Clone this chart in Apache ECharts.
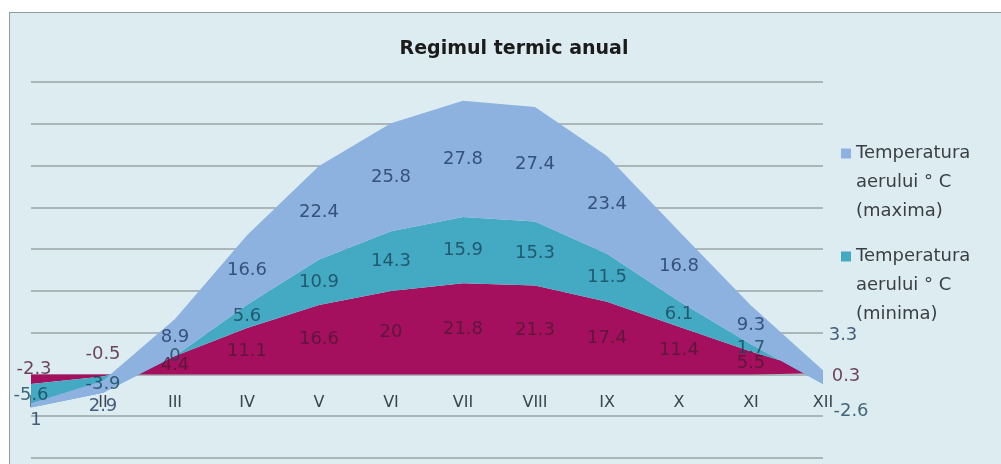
<!DOCTYPE html>
<html><head><meta charset="utf-8">
<script src="https://cdn.jsdelivr.net/npm/echarts@6/dist/echarts.min.js"></script>
<style>
html,body{margin:0;padding:0;background:#fff;width:1001px;height:464px;overflow:hidden}
#frame{position:absolute;left:9px;top:12px;width:1100px;height:600px;background:#ddecf1;border:1.5px solid #8e9a9b;box-sizing:border-box}
#chart{position:absolute;left:0;top:0;width:1001px;height:464px}
</style></head><body>
<div id="frame"></div><div id="chart"></div>
<script>
// ---- data ----
const months = ['I','II','III','IV','V','VI','VII','VIII','IX','X','XI','XII'];
const tempMax = [1, 2.9, 8.9, 16.6, 22.4, 25.8, 27.8, 27.4, 23.4, 16.8, 9.3, 3.3];
const tempMin = [-5.6, -3.9, 0, 5.6, 10.9, 14.3, 15.9, 15.3, 11.5, 6.1, 1.7, -2.6];
const tempMean = [-2.3, -0.5, 4.4, 11.1, 16.6, 20, 21.8, 21.3, 17.4, 11.4, 5.5, 0.3];
const yTicks = [-20, -10, 0, 10, 20, 30, 40, 50, 60, 70];
const nameMax = 'Temperatura\naerului ° C\n(maxima)';
const nameMin = 'Temperatura\naerului ° C\n(minima)';
const title = 'Regimul termic anual';

// ---- style ----
const C_MAX = '#8db2df', C_MIN = '#44a9c2', C_MEAN = '#a4105e';
const FONT = '"DejaVu Sans", sans-serif';
const GRID = {left: 31, right: 178, top: 82, bottom: 6};
const GRID_H = 464 - GRID.top - GRID.bottom;
const yMin = yTicks[0], yMax = yTicks[yTicks.length - 1];
// x axis sits at value 0 (Excel "axis crosses at 0")
const xAxisOffset = -GRID_H * (0 - yMin) / (yMax - yMin);
// manual label shifts (labels moved by hand in original)
const labelShift = {
  max: {0: [5, 15], 1: [0, 20], 11: [20, -42]},
  mean: {0: [3, -10], 1: [0, -21], 11: [23, 3]},
  min: {11: [28, 33]}
};

// stacked mid-band positions (label anchors) derived from the data
const midMean = tempMean.map(v => v / 2);
const midMin = tempMean.map((v, i) => v + tempMin[i] / 2);
const midMax = tempMean.map((v, i) => v + tempMin[i] + tempMax[i] / 2);

function labelData(mids, vals, key) {
  return mids.map((m, i) => {
    const item = {value: m, raw: vals[i]};
    const s = labelShift[key][i];
    if (s) item.label = {offset: s};
    return item;
  });
}
function labelSeries(mids, vals, key, color) {
  return {
    type: 'scatter', data: labelData(mids, vals, key), symbolSize: 1,
    itemStyle: {color: 'transparent'}, silent: true, z: 10,
    label: {show: true, position: 'inside', color: color, fontFamily: FONT, fontSize: 18,
      formatter: p => String(p.data.raw)}
  };
}
function areaSeries(name, vals, color) {
  return {
    name: name, type: 'line', stack: 'T', stackStrategy: 'all', data: vals,
    symbol: 'none', lineStyle: {width: 0}, itemStyle: {color: color},
    areaStyle: {color: color, opacity: 1}, emphasis: {disabled: true}
  };
}

const chart = echarts.init(document.getElementById('chart'), null, {renderer: 'canvas'});
chart.setOption({
  animation: false,
  backgroundColor: 'transparent',
  title: {text: title, left: 509, top: 35, textAlign: 'center',
    textStyle: {fontFamily: FONT, fontWeight: 'bold', fontSize: 19, color: '#1b1b1b'}},
  legend: {
    data: [nameMax, nameMin], orient: 'vertical', left: 841, top: 139, padding: 0,
    itemGap: 16, itemWidth: 10, itemHeight: 87,
    icon: 'path://M0,9.5H10V19.5H0Z M0,0L0.01,0 M0,87L0.01,87',
    itemStyle: {borderWidth: 0},
    textStyle: {fontFamily: FONT, fontSize: 18, color: '#3a3f45', lineHeight: 29}
  },
  grid: Object.assign({containLabel: false, outerBoundsMode: 'none'}, GRID),
  xAxis: {
    type: 'category', data: months, boundaryGap: false, position: 'bottom',
    offset: xAxisOffset,
    axisLine: {show: false, onZero: false}, axisTick: {show: false},
    axisLabel: {margin: 20, color: '#3a4550', fontFamily: FONT, fontSize: 16}
  },
  yAxis: {
    type: 'value', min: yMin, max: yMax, interval: yTicks[1] - yTicks[0],
    axisLabel: {show: false}, axisLine: {show: false}, axisTick: {show: false},
    splitLine: {lineStyle: {color: '#9aa4a7', width: 1.5}}
  },
  series: [
    areaSeries('Temperatura medie', tempMean, C_MEAN),
    areaSeries(nameMin, tempMin, C_MIN),
    areaSeries(nameMax, tempMax, C_MAX),
    labelSeries(midMean, tempMean, 'mean', '#4e1835'),
    labelSeries(midMin, tempMin, 'min', '#17465a'),
    labelSeries(midMax, tempMax, 'max', '#1e3a62')
  ]
});
</script>
</body></html>
